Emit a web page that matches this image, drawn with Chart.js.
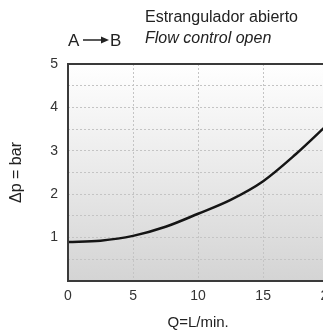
<!DOCTYPE html>
<html>
<head>
<meta charset="utf-8">
<script src="https://cdn.jsdelivr.net/npm/chart.js@4/dist/chart.umd.min.js"></script>
<style>
  html, body { margin: 0; padding: 0; background: #fff; overflow: hidden; }
  #wrap { width: 343px; height: 336px; }
</style>
</head>
<body>
<div id="wrap"><canvas id="flowChart" width="343" height="336"></canvas></div>
<script>
// Q (L/min) and pressure drop (bar)
const flowQ = [0, 2.5, 5, 7.5, 10, 12.5, 15, 17.5, 20];
const deltaP = [0.9, 0.93, 1.04, 1.25, 1.55, 1.87, 2.3, 2.92, 3.62];
const xTicks = [0, 5, 10, 15, 20];
const yTicks = [1, 2, 3, 4, 5];
const headerEs = 'Estrangulador abierto';
const headerEn = 'Flow control open';

document.addEventListener('DOMContentLoaded', function() {
    const ctx = document.getElementById('flowChart').getContext('2d');

    // Gradient panel behind the plot, frame and header on top
    const panelPlugin = {
        id: 'panel',
        beforeDraw(chart) {
            const a = chart.chartArea;
            const c = chart.ctx;
            const g = c.createLinearGradient(0, a.top, 0, a.bottom);
            g.addColorStop(0, '#ffffff');
            g.addColorStop(1, '#d4d4d4');
            c.save();
            c.fillStyle = g;
            c.fillRect(a.left, a.top, a.right - a.left, a.bottom - a.top);
            c.restore();
        },
        afterDraw(chart) {
            const a = chart.chartArea;
            const c = chart.ctx;
            c.save();
            c.strokeStyle = '#3a3a3a';
            c.lineWidth = 2;
            c.strokeRect(a.left, a.top, a.right - a.left, a.bottom - a.top);

            c.fillStyle = '#222';
            c.textBaseline = 'alphabetic';
            c.font = '16px "Liberation Sans", Arial, sans-serif';
            c.fillText(headerEs, 145, 22);
            c.font = 'italic 16px "Liberation Sans", Arial, sans-serif';
            c.fillText(headerEn, 145, 43);

            // A -> B
            c.font = '17px "Liberation Sans", Arial, sans-serif';
            c.fillText('A', 68, 46);
            c.fillText('B', 110, 46);
            c.strokeStyle = '#222';
            c.lineWidth = 1.5;
            c.beginPath();
            c.moveTo(83, 40);
            c.lineTo(102, 40);
            c.stroke();
            c.beginPath();
            c.moveTo(109, 40);
            c.lineTo(101, 36.5);
            c.lineTo(101, 43.5);
            c.closePath();
            c.fill();
            c.restore();
        }
    };

    new Chart(ctx, {
        type: 'line',
        data: {
            datasets: [{
                data: flowQ.map((q, i) => ({ x: q, y: deltaP[i] })),
                borderColor: '#151515',
                borderWidth: 2.5,
                cubicInterpolationMode: 'monotone',
                pointRadius: 0,
                fill: false
            }]
        },
        options: {
            responsive: false,
            animation: false,
            events: [],
            layout: { padding: { top: 64, left: 0, right: 0, bottom: 0 } },
            plugins: {
                legend: { display: false },
                tooltip: { enabled: false }
            },
            scales: {
                x: {
                    type: 'linear',
                    min: xTicks[0],
                    max: xTicks[xTicks.length - 1],
                    afterBuildTicks: function(scale) {
                        scale.ticks = xTicks.map(v => ({ value: v }));
                    },
                    afterFit: function(scale) { scale.height = 55; },
                    grid: { color: '#c4c4c4', lineWidth: 1, drawTicks: false },
                    border: { display: false, dash: [2, 2] },
                    ticks: {
                        padding: 7,
                        color: '#333',
                        font: { family: '"Liberation Sans", Arial, sans-serif', size: 14 }
                    },
                    title: {
                        display: true,
                        text: 'Q=L/min.',
                        color: '#222',
                        padding: { top: 0, bottom: 4 },
                        font: { family: '"Liberation Sans", Arial, sans-serif', size: 15 }
                    }
                },
                y: {
                    min: 0,
                    max: 5,
                    ticks: {
                        stepSize: 0.5,
                        padding: 10,
                        color: '#333',
                        font: { family: '"Liberation Sans", Arial, sans-serif', size: 14 },
                        callback: function(v) {
                            return yTicks.includes(v) ? String(v) : '';
                        }
                    },
                    afterFit: function(scale) { scale.width = 68; },
                    grid: { color: '#c4c4c4', lineWidth: 1, drawTicks: false },
                    border: { display: false, dash: [2, 2] },
                    title: {
                        display: true,
                        text: 'Δp = bar',
                        color: '#222',
                        padding: { top: 7, bottom: 0 },
                        font: { family: '"Liberation Sans", Arial, sans-serif', size: 16 }
                    }
                }
            }
        },
        plugins: [panelPlugin]
    });
});
</script>
</body>
</html>
